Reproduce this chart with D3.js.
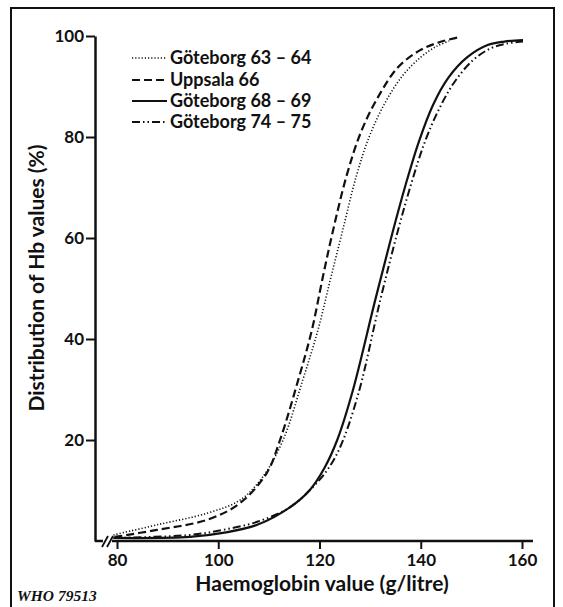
<!DOCTYPE html>
<html>
<head>
<meta charset="utf-8">
<script src="https://cdn.jsdelivr.net/npm/d3@7"></script>
<style>
  body { margin: 0; background: #fff; }
  svg text { font-family: "Lato", "DejaVu Sans", sans-serif; font-weight: 700; fill: #111; }
</style>
</head>
<body>
<div id="chart"></div>
<script>
// Cumulative distribution of Hb values, [g/litre, %]
const got6364 = [[79.3,1.2],[87.9,3.2],[97.8,5.5],[104.3,8.1],[108.8,12.7],[112.8,20],[116.7,31.9],[119.7,41.8],[122.2,52],[124.6,61.6],[127.2,72],[129.8,80],[132.8,86.5],[136.3,92],[140,95.8],[143.2,98],[145.6,99]];
const upp66 = [[79.5,0.8],[87.9,2.2],[97.8,4.2],[104.3,7.5],[109.6,13.5],[112.2,20],[115.8,31.9],[118.5,41.8],[120.6,52],[122.7,61.6],[125.4,72.5],[128.2,81],[131.5,87.8],[135.5,93.8],[139.9,97.2],[143.8,98.8],[147.8,99.8]];
const got6869 = [[79.3,0.6],[94.4,0.8],[100.9,1.6],[107.7,3.2],[114.2,6.7],[118.1,10.1],[121,14.5],[123.5,20],[126.5,29.5],[131,47.7],[134.4,61],[137,70.5],[139.6,79],[142.4,86.3],[145.5,91.8],[149.2,95.8],[153.2,98.2],[156.5,98.9],[160.2,99.2]];
const got7475 = [[79.3,0.6],[94.4,1.2],[100.9,2.2],[107.7,3.8],[114.2,6.7],[118.7,10.7],[121.5,14],[124,18.4],[127.6,28.9],[132,47.7],[135.5,61.5],[138.2,71],[140.8,79],[143.6,85.5],[146.6,90.8],[150.3,95.2],[153.9,97.6],[157,98.5],[160.2,98.9]];

const seriesNames = ["Göteborg  63 – 64", "Uppsala 66", "Göteborg  68 – 69", "Göteborg  74 – 75"];
const xTicks = [80, 100, 120, 140, 160];
const yTicks = [20, 40, 60, 80, 100];

const w = 563, h = 607;
const yAxisX = 95;

const svg = d3.select("#chart").append("svg")
  .attr("width", w)
  .attr("height", h);

// frame
svg.append("rect")
  .attr("x", 11).attr("y", 8)
  .attr("width", 543).attr("height", 620)
  .attr("fill", "none").attr("stroke", "#111").attr("stroke-width", 2);

const xScale = d3.scaleLinear().domain([80, 160]).range([117, 522]);
const yScale = d3.scaleLinear().domain([0, 100]).range([541, 36]);

// y axis
const yAxis = svg.append("g")
  .attr("transform", "translate(" + yAxisX + ",0)")
  .call(d3.axisLeft(yScale).tickValues(yTicks).tickSize(9).tickSizeOuter(0).tickPadding(2));
yAxis.select(".domain").attr("stroke-width", 2.5).attr("stroke", "#111");
yAxis.selectAll(".tick line").attr("stroke-width", 2).attr("stroke", "#111");
yAxis.selectAll(".tick text").style("font-size", "17px");

// x axis with a break near the origin
const xAxis = svg.append("g")
  .attr("transform", "translate(0," + yScale(0) + ")")
  .call(d3.axisBottom(xScale).tickValues(xTicks).tickSize(8).tickSizeOuter(0).tickPadding(5));
xAxis.select(".domain").remove();
xAxis.selectAll(".tick line").attr("stroke-width", 2).attr("stroke", "#111");
xAxis.selectAll(".tick text").style("font-size", "17px");
xAxis.append("line").attr("x1", yAxisX).attr("x2", 103).attr("stroke", "#111").attr("stroke-width", 2.5);
xAxis.append("line").attr("x1", 112).attr("x2", 533).attr("stroke", "#111").attr("stroke-width", 2.5);
[0, 5].forEach(dx => {
  xAxis.append("line")
    .attr("x1", 102 + dx).attr("y1", 6)
    .attr("x2", 108 + dx).attr("y2", -5)
    .attr("stroke", "#111").attr("stroke-width", 1.8);
});

// axis titles
svg.append("text")
  .attr("x", 322).attr("y", 591)
  .attr("text-anchor", "middle")
  .style("font-size", "21px")
  .text("Haemoglobin value (g/litre)");
svg.append("text")
  .attr("transform", "translate(44,278) rotate(-90)")
  .attr("text-anchor", "middle")
  .style("font-size", "21px")
  .text("Distribution of Hb values (%)");

svg.append("text")
  .attr("x", 17).attr("y", 601)
  .style("font-family", "'Liberation Serif', serif")
  .style("font-style", "italic")
  .style("font-size", "15.5px")
  .text("WHO 79513");

// curves
const styles = [
  {data: got6364, dash: "1.2,2", width: 1.6},
  {data: upp66, dash: "8,4", width: 2.2},
  {data: got6869, dash: null, width: 2.2},
  {data: got7475, dash: "8,3,1.5,3,1.5,3", width: 2}
];
const line = d3.line()
  .x(d => xScale(d[0]))
  .y(d => yScale(d[1]))
  .curve(d3.curveCatmullRom.alpha(0.5));

svg.selectAll(".curve")
  .data(styles)
  .enter().append("path")
  .attr("class", "curve")
  .attr("d", d => line(d.data))
  .attr("fill", "none")
  .attr("stroke", "#111")
  .attr("stroke-width", d => d.width)
  .attr("stroke-dasharray", d => d.dash);

// legend
const legendY = [58, 80, 101, 122];
const legend = svg.selectAll(".legend")
  .data(styles)
  .enter().append("g")
  .attr("class", "legend")
  .attr("transform", (d, i) => "translate(0," + legendY[i] + ")");
legend.append("line")
  .attr("x1", 132).attr("x2", 167)
  .attr("stroke", "#111")
  .attr("stroke-width", d => d.width)
  .attr("stroke-dasharray", d => d.dash);
legend.append("text")
  .attr("x", 170)
  .attr("dy", "0.35em")
  .style("font-size", "18px")
  .text((d, i) => seriesNames[i]);
</script>
</body>
</html>
